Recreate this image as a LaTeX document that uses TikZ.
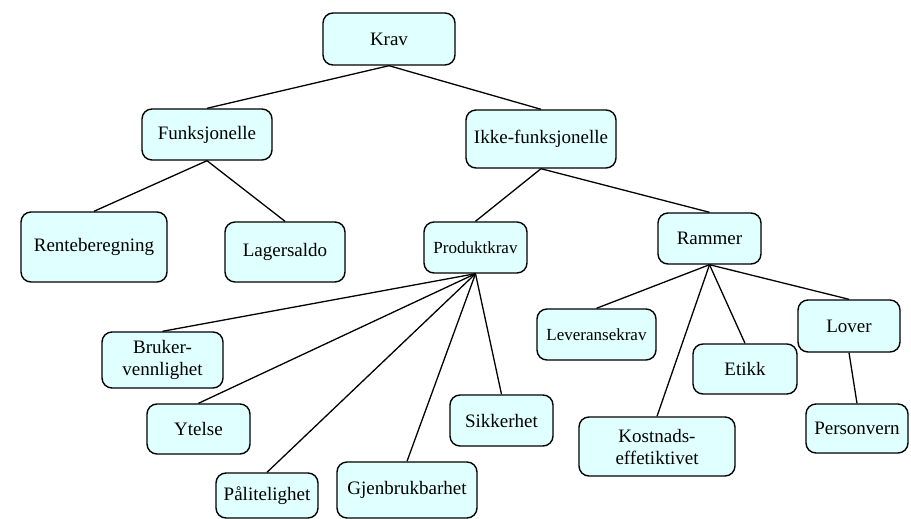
\documentclass[tikz,border=0pt]{standalone}
\usepackage{fontspec}
\setmainfont{Liberation Serif}
\usepackage{xcolor}
\definecolor{cBox}{RGB}{224,255,255}
\tikzset{
    krav/.style={rectangle, rounded corners=10pt, draw=black, line width=1.4pt, fill=cBox, align=center, text centered, inner sep=2pt},
    lite/.style={font=\fontsize{17}{20}\selectfont},
    link/.style={line width=1.3pt},
}
\begin{document}
\begin{tikzpicture}[x=1pt, y=-1pt, font=\fontsize{19}{22}\selectfont]
    \useasboundingbox (0,0) rectangle (911,519);
    % level 0 and 1
    \node[krav, minimum width=132pt, minimum height=52pt] (krav) at (389,39) {Krav};
    \node[krav, minimum width=130pt, minimum height=51pt] (funk) at (207,134.5) {Funksjonelle};
    \node[krav, minimum width=150pt, minimum height=58pt] (ikke) at (541,139) {Ikke-funksjonelle};
    % level 2
    \node[krav, minimum width=146pt, minimum height=70pt] (rente) at (94,247) {Renteberegning};
    \node[krav, minimum width=120pt, minimum height=60pt] (lager) at (285,252) {Lagersaldo};
    \node[krav, lite, minimum width=103pt, minimum height=51pt] (produkt) at (475.5,247.5) {Produktkrav};
    \node[krav, minimum width=103pt, minimum height=51pt] (rammer) at (709.5,238.5) {Rammer};
    % under Produktkrav
    \node[krav, minimum width=121pt, minimum height=56pt] (bruker) at (162.5,360) {Bruker-\\vennlighet};
    \node[krav, minimum width=103pt, minimum height=50pt] (ytelse) at (198.5,429) {Ytelse};
    \node[krav, minimum width=102pt, minimum height=45pt] (paalit) at (267,495.5) {Pålitelighet};
    \node[krav, minimum width=140pt, minimum height=56pt] (gjenbruk) at (407,490) {Gjenbrukbarhet};
    \node[krav, minimum width=103pt, minimum height=51pt] (sikker) at (501.5,420.5) {Sikkerhet};
    % under Rammer
    \node[krav, lite, minimum width=119pt, minimum height=51pt] (levering) at (596.5,334.5) {Leveransekrav};
    \node[krav, minimum width=156pt, minimum height=59pt] (kostnad) at (657,446.5) {Kostnads-\\effetiktivet};
    \node[krav, minimum width=104pt, minimum height=50pt] (etikk) at (745,369) {Etikk};
    \node[krav, minimum width=102pt, minimum height=52pt] (lover) at (849,326) {Lover};
    \node[krav, minimum width=102pt, minimum height=49pt] (personvern) at (857,428.5) {Personvern};
    % connectors
    \draw[link] (krav.south) -- (funk.north);
    \draw[link] (krav.south) -- (ikke.north);
    \draw[link] (funk.south) -- (rente.north);
    \draw[link] (funk.south) -- (lager.north);
    \draw[link] (ikke.south) -- (produkt.north);
    \draw[link] (ikke.south) -- (rammer.north);
    \foreach \n in {bruker, ytelse, paalit, gjenbruk, sikker}
        \draw[link] (produkt.south) -- (\n.north);
    \foreach \n in {levering, kostnad, etikk, lover}
        \draw[link] (rammer.south) -- (\n.north);
    \draw[link] (lover.south) -- (personvern.north);
\end{tikzpicture}
\end{document}
